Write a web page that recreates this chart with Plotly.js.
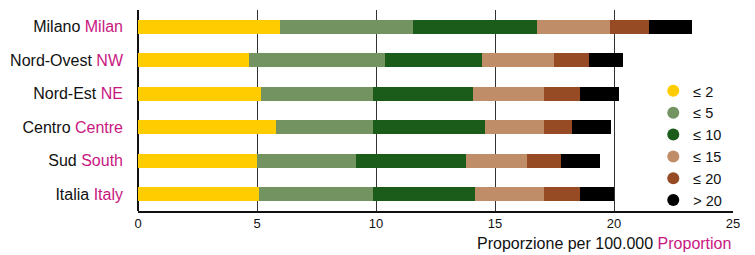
<!DOCTYPE html>
<html>
<head>
<meta charset="utf-8">
<script src="https://cdn.plot.ly/plotly-3.0.1.min.js"></script>
<style>html,body{margin:0;padding:0;background:#fff;}#chart{width:755px;height:255px;}</style>
</head>
<body>
<div id="chart"></div>
<script>
const regionsIt = ["Milano", "Nord-Ovest", "Nord-Est", "Centro", "Sud", "Italia"];
const regionsEn = ["Milan", "NW", "NE", "Centre", "South", "Italy"];
const classNames = ["≤ 2", "≤ 5", "≤ 10", "≤ 15", "≤ 20", "> 20"];
const classColors = ["#FFCC00", "#739461", "#1B5C1B", "#BF8E69", "#964B24", "#000000"];
const le2  = [5.97, 4.66, 5.15, 5.80, 4.99, 5.07];
const le5  = [5.58, 5.72, 4.71, 4.06, 4.17, 4.79];
const le10 = [5.21, 4.06, 4.22, 4.72, 4.62, 4.30];
const le15 = [3.07, 3.04, 2.98, 2.48, 2.56, 2.90];
const le20 = [1.64, 1.47, 1.51, 1.18, 1.43, 1.51];
const gt20 = [1.81, 1.43, 1.64, 1.63, 1.64, 1.43];
const series = [le2, le5, le10, le15, le20, gt20];
const xTicks = [0, 5, 10, 15, 20, 25];

const MAG = "#C8177F";
const FONT = "'Liberation Sans', Arial, sans-serif";
const labels = regionsIt.map((r, i) => r + ' <span style="color:' + MAG + '">' + regionsEn[i] + '</span>');

const traces = [];
series.forEach((vals, k) => {
  traces.push({
    type: 'bar', orientation: 'h',
    x: vals, y: labels,
    marker: {color: classColors[k], line: {width: 0}},
    width: 0.41,
    showlegend: false,
    hoverinfo: 'x'
  });
});
classNames.forEach((n, k) => {
  traces.push({
    type: 'scatter', mode: 'markers',
    x: [null], y: [null],
    name: n,
    marker: {color: classColors[k], size: 13, symbol: 'circle'},
    showlegend: true
  });
});

const layout = {
  width: 755, height: 255,
  margin: {l: 138, r: 22, t: 10, b: 44},
  barmode: 'stack',
  paper_bgcolor: '#fff', plot_bgcolor: '#fff',
  font: {family: FONT, size: 16, color: '#111'},
  showlegend: true,
  legend: {
    x: 0.866, xanchor: 'left', y: 0.677, yanchor: 'top',
    traceorder: 'normal',
    bgcolor: 'rgba(0,0,0,0)', font: {family: FONT, size: 14.5, color: '#111'},
    itemsizing: 'constant', tracegroupgap: 0
  },
  xaxis: {
    range: [0, 25], tickvals: xTicks, ticktext: xTicks.map(String),
    showgrid: true, gridcolor: '#333', gridwidth: 1,
    zeroline: true, zerolinecolor: '#111', zerolinewidth: 2,
    showline: true, linecolor: '#111', linewidth: 1.5,
    ticks: '', tickfont: {family: FONT, size: 13, color: '#111'},
    fixedrange: true
  },
  yaxis: {
    categoryorder: 'array', categoryarray: labels.slice().reverse(),
    autorange: false, range: [-0.5, 5.5],
    showgrid: false, zeroline: false, showline: false,
    ticks: '', ticklabelstandoff: 14,
    tickfont: {family: FONT, size: 16, color: '#111'},
    fixedrange: true
  },
  annotations: [{
    xref: 'paper', yref: 'paper', x: 1, y: 0, xanchor: 'right', yanchor: 'top',
    yshift: -22, showarrow: false,
    text: 'Proporzione per 100.000 <span style="color:' + MAG + '">Proportion</span>',
    font: {family: FONT, size: 16, color: '#111'}
  }]
};

Plotly.newPlot('chart', traces, layout, {displayModeBar: false, staticPlot: true});
</script>
</body>
</html>
